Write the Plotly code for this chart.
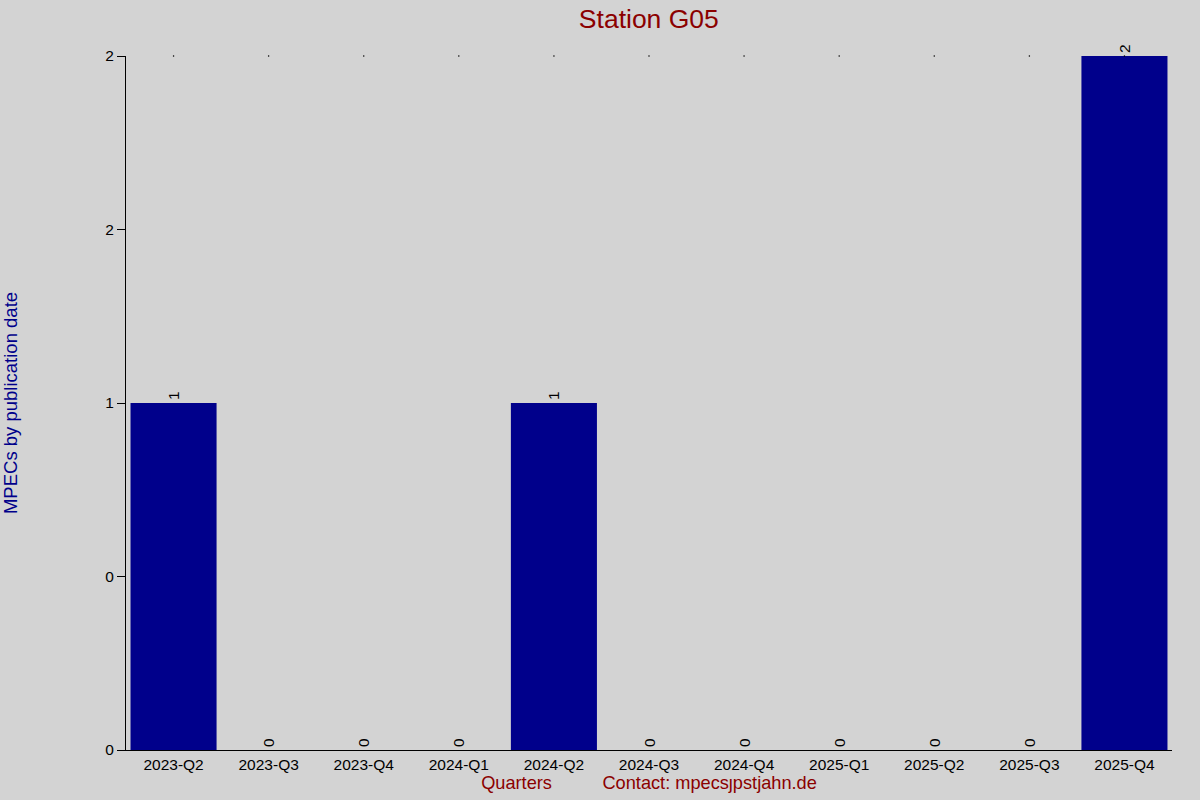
import plotly.graph_objects as go

# =========================
# DATA
# =========================

quarters = [
    "2023-Q2", "2023-Q3", "2023-Q4", "2024-Q1", "2024-Q2", "2024-Q3",
    "2024-Q4", "2025-Q1", "2025-Q2", "2025-Q3", "2025-Q4"
]
mpecs = [1, 0, 0, 0, 1, 0, 0, 0, 0, 0, 2]
top_dots = [2, 2, 2, 2, 2, 2, 2, 2, 2, 2, 2]

y_tickvals = [0, 0.5, 1, 1.5, 2]
y_ticktext = ["0", "0", "1", "2", "2"]

# =========================
# THEME
# =========================

BG = "#D3D3D3"
BAR_COLOR = "#00008B"
TITLE_RED = "#8B0000"
FONT = "Liberation Sans, Arial, sans-serif"
NB = "\u00a0"

# =========================
# FIGURE
# =========================

fig = go.Figure()

fig.add_trace(
    go.Bar(
        x=quarters,
        y=mpecs,
        marker=dict(color=BAR_COLOR, line=dict(width=0)),
        text=[str(v) for v in mpecs],
        textposition="outside",
        textangle=-90,
        textfont=dict(color="black", size=15.5, family=FONT),
        cliponaxis=False,
        showlegend=False
    )
)

fig.add_trace(
    go.Scatter(
        x=quarters,
        y=top_dots,
        mode="markers",
        marker=dict(color="black", size=1.5),
        cliponaxis=False,
        hoverinfo="skip",
        showlegend=False
    )
)

fig.update_layout(
    width=1200,
    height=800,
    paper_bgcolor=BG,
    plot_bgcolor=BG,
    font=dict(family=FONT, size=15.5, color="black"),
    bargap=0.095,
    title=dict(
        text="Station G05",
        x=0.5407,
        xanchor="center",
        y=0.977,
        yanchor="middle",
        font=dict(size=26.5, color=TITLE_RED)
    ),
    xaxis=dict(
        title=dict(
            text="Quarters" + NB * 10 + "Contact: mpecs\u0237pstjahn.de",
            font=dict(size=18.2, color=TITLE_RED),
            standoff=2
        ),
        automargin=False,
        showline=True,
        linecolor="black",
        linewidth=1,
        ticks="",
        showgrid=False,
        zeroline=False,
        range=[-0.5, 10.5],
        tickfont=dict(size=15.5)
    ),
    yaxis=dict(
        title=dict(
            text="MPECs by publication date",
            font=dict(size=18.5, color=BAR_COLOR),
            standoff=83
        ),
        automargin=False,
        range=[0, 2],
        tickvals=y_tickvals,
        ticktext=y_ticktext,
        ticks="outside",
        ticklen=8,
        tickcolor="black",
        showline=True,
        linecolor="black",
        linewidth=1,
        showgrid=False,
        zeroline=False,
        tickfont=dict(size=15.5)
    ),
    margin=dict(l=126, r=28, t=56, b=50)
)

fig.write_html(
    "out.html",
    config={"displayModeBar": False},
    post_script="document.body.style.margin='0';document.body.style.overflow='hidden';"
)
